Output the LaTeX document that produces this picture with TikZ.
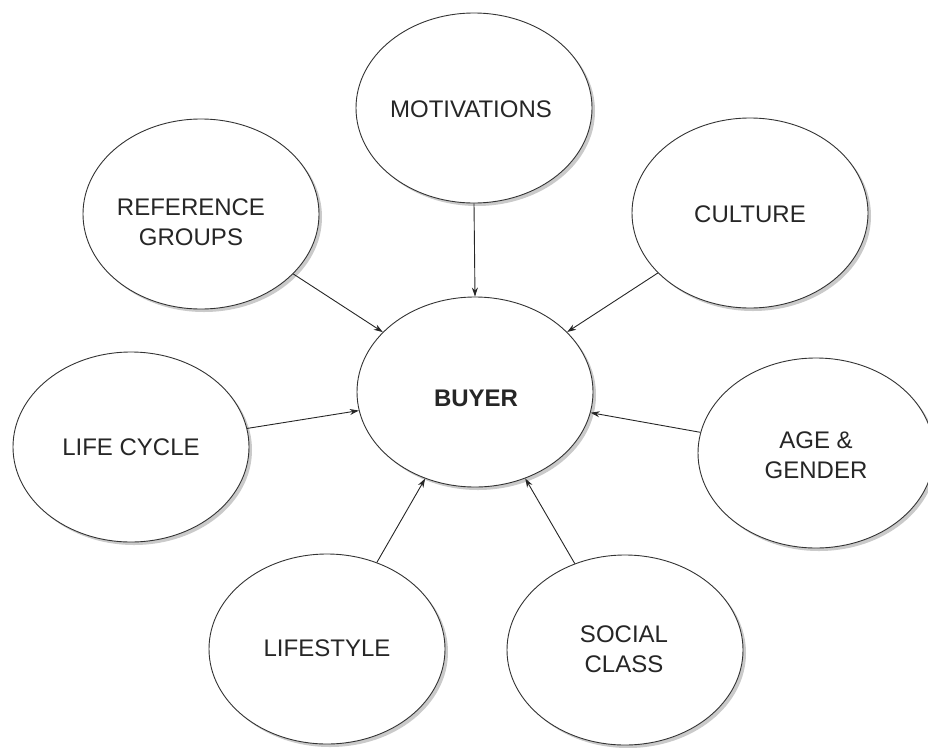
\documentclass[tikz,border=0pt]{standalone}
\usepackage{fontspec}
\setmainfont{Liberation Sans}
\usetikzlibrary{shapes.geometric,shadows,arrows.meta}
\begin{document}
\begin{tikzpicture}[x=1pt,y=-1pt,
  blob/.style={ellipse,draw=black!80,line width=0.9pt,fill=white,inner sep=0pt,
    minimum width=236pt,minimum height=190pt,
    drop shadow={shadow xshift=3pt,shadow yshift=-3pt,fill=black!35,opacity=0.6}},
  lbl/.style={font=\fontsize{24}{30}\selectfont,text=black!85,align=center,inner sep=0pt},
  arr/.style={draw=black!85,line width=0.9pt,-{Stealth[length=9pt,width=6pt]}}]
\useasboundingbox (0,0) rectangle (928,747);
\node[blob] (buyer) at (475,392) {};
\node[blob] (mot) at (474,108) {};
\node[blob] (ref) at (201,214) {};
\node[blob] (cul) at (750,213) {};
\node[blob] (life) at (131,447) {};
\node[blob] (age) at (816,453) {};
\node[blob] (style) at (327,649) {};
\node[blob] (soc) at (625,650) {};
\node[lbl,font=\fontsize{24}{30}\selectfont\bfseries] (tbuyer) at (476,398) {BUYER};
\node[lbl] (tmot) at (471,109) {MOTIVATIONS};
\node[lbl] (tref) at (191,222) {REFERENCE\\GROUPS};
\node[lbl] (tcul) at (750,214) {CULTURE};
\node[lbl] (tlife) at (131,447) {LIFE CYCLE};
\node[lbl] (tage) at (816,455) {AGE \&\\GENDER};
\node[lbl] (tstyle) at (327,648) {LIFESTYLE};
\node[lbl] (tsoc) at (624,649) {SOCIAL\\CLASS};
\draw[arr] (mot.south) -- (buyer.north);
\draw[arr] (ref) -- (buyer);
\draw[arr] (cul) -- (buyer);
\draw[arr] (life) -- (buyer);
\draw[arr] (age) -- (buyer);
\draw[arr] (style) -- (buyer);
\draw[arr] (soc) -- (buyer);
\end{tikzpicture}
\end{document}
